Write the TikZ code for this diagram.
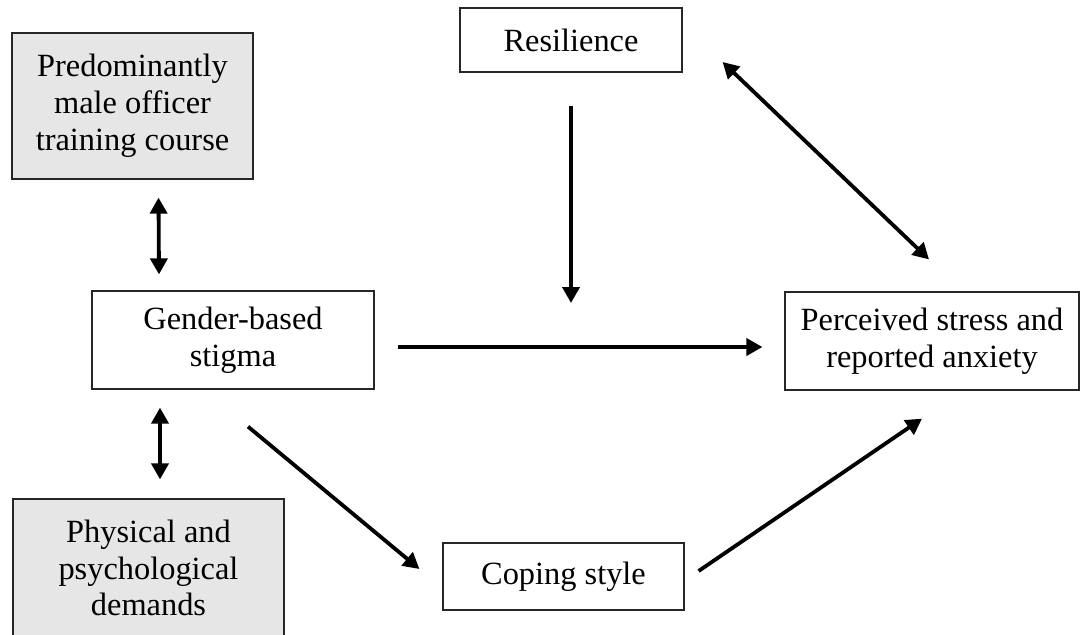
\documentclass[tikz,border=0pt]{standalone}
\usepackage{fontspec}
\setmainfont{Liberation Serif}
\usetikzlibrary{arrows.meta}
\definecolor{boxgray}{HTML}{E6E6E6}

\begin{document}
\begin{tikzpicture}[x=0.5pt, y=-0.5pt,
  box/.style={draw=black!85, line width=0.6pt, align=center, inner sep=0pt, font=\fontsize{16.2}{18.4}\selectfont},
  shaded/.style={box, fill=boxgray},
  arr/.style={line width=1.9pt, -{Triangle[length=8pt,width=8.5pt]}},
  dbl/.style={line width=1.9pt, {Triangle[length=8pt,width=8.5pt]}-{Triangle[length=8pt,width=8.5pt]}}]
\useasboundingbox (0,0) rectangle (1080,634);
\node[shaded, minimum width=120.5pt, minimum height=73pt] (course) at (132.5,106) {Predominantly\\male officer\\training course};
\node[box, minimum width=111pt, minimum height=32pt] (resil) at (571,40) {Resilience};
\node[box, minimum width=141pt, minimum height=49pt] (gender) at (233,340) {Gender-based\\stigma};
\node[box, minimum width=147pt, minimum height=49pt] (perceived) at (932,341) {Perceived stress and\\reported anxiety};
\node[shaded, minimum width=135.5pt, minimum height=69pt] (demands) at (148.5,568) {Physical and\\psychological\\demands};
\node[box, minimum width=120.5pt, minimum height=33.5pt] (coping) at (563.5,576.5) {Coping style};
\coordinate (mid) at (571,303);
\draw[dbl] ([xshift=13pt,yshift=-9pt]course.south) -- ([xshift=-37pt,yshift=8pt]gender.north);
\draw[dbl] ([xshift=-36.5pt,yshift=-9pt]gender.south) -- ([xshift=5.75pt,yshift=9.5pt]demands.north);
\draw[arr] ([yshift=-16.5pt]resil.south) -- (mid);
\draw[arr] ([xshift=11.5pt,yshift=-3.5pt]gender.east) -- ([xshift=-11pt,yshift=-3pt]perceived.west);
\draw[arr] ([xshift=7.5pt,yshift=-18.5pt]gender.south) -- ([xshift=-11.5pt,yshift=3.75pt]coping.west);
\draw[arr] ([xshift=7pt,yshift=2.75pt]coping.east) -- ([xshift=-5pt,yshift=-14pt]perceived.south);
\draw[dbl] ([xshift=20pt,yshift=-11pt]resil.east) -- ([xshift=-1.5pt,yshift=16pt]perceived.north);
\end{tikzpicture}
\end{document}
